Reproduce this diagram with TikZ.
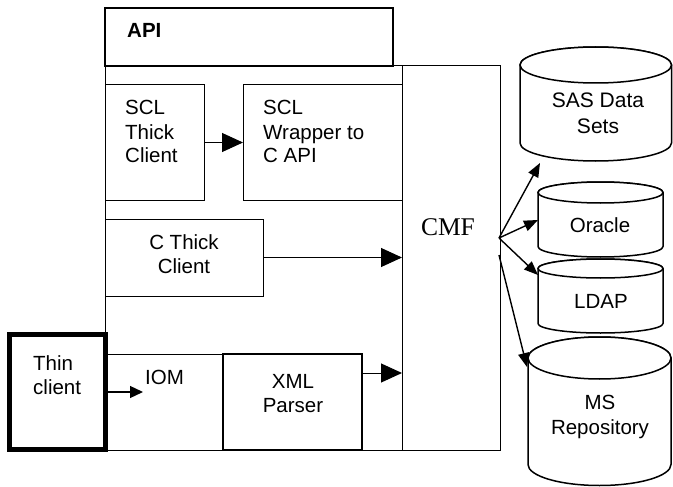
\documentclass[tikz,border=0pt]{standalone}
\usepackage{fontspec}
\setmainfont{Liberation Sans}
\newfontfamily\timesf{Liberation Serif}
\usetikzlibrary{arrows.meta}
\newcommand\dbcyl[5]{%
 \pgfmathsetmacro\dbcx{(#1+#2)/2}%
 \pgfmathsetmacro\dbrx{(#2-#1)/2}%
 \pgfmathsetmacro\dbyt{-(#3)-(#5)}%
 \pgfmathsetmacro\dbyb{-(#4)+(#5)}%
 \filldraw[cyl] (#1,\dbyt) -- (#1,\dbyb) arc[start angle=180,end angle=360,x radius=\dbrx,y radius=#5] -- (#2,\dbyt) arc[start angle=0,end angle=180,x radius=\dbrx,y radius=#5] -- cycle;
 \draw[cyl] (\dbcx,\dbyt) ellipse[x radius=\dbrx,y radius=#5];
}
\begin{document}
\begin{tikzpicture}[x=1pt,y=1pt,
  box/.style={draw, line width=1pt, inner sep=0pt, outer sep=0pt, anchor=north west},
  txt/.style={inner sep=0pt, font=\fontsize{20.5}{24}\selectfont},
  lbl/.style={txt, anchor=base west, align=left},
  clbl/.style={txt, anchor=base, align=center},
  cyl/.style={draw, fill=white, line width=1.5pt},
  bigarrow/.style={-{Triangle[length=21pt,width=19pt]}, line width=1pt},
  smallarrow/.style={-{Triangle[length=13pt,width=12pt]}, line width=1.3pt},
  dbarrow/.style={-{Triangle[length=14pt,width=11pt]}, line width=1.4pt}
]
\useasboundingbox (0,0) rectangle (673,-487);
% container and CMF
\node[box, minimum width=297pt, minimum height=384pt] (cont) at (105,-66) {};
\node[box, minimum width=98pt, minimum height=384pt] (cmf) at (402,-66) {};
\node[inner sep=0pt, anchor=base, font=\timesf\fontsize{25.5}{28}\selectfont] (cmft) at (448,-235) {CMF};
% API
\node[box, line width=2pt, minimum width=288pt, minimum height=58pt] (api) at (105,-8) {};
\node[lbl, font=\fontsize{20.5}{24}\selectfont\bfseries] (apit) at (127,-38) {API};
% SCL boxes
\node[box, minimum width=99pt, minimum height=115pt] (scl) at (105,-85) {};
\node[lbl] (sclt) at (125,-163) {SCL\\Thick\\Client};
\node[box, minimum width=159pt, minimum height=115pt] (wrap) at (243,-85) {};
\node[lbl] (wrapt) at (263,-163) {SCL\\Wrapper to\\C API};
% C thick client
\node[box, minimum width=158pt, minimum height=77pt] (cthick) at (105,-219) {};
\node[clbl] (ctt) at (184,-273) {C Thick\\Client};
% IOM row
\coordinate (iomleft) at (108,-354);
\node[box, line width=1.5pt, minimum width=139pt, minimum height=96pt] (xml) at (223,-354) {};
\draw[line width=1pt] (iomleft) -- (xml.north west);
\node[lbl] (iomt) at (145,-384) {IOM};
\node[clbl] (xmlt) at (293,-412) {XML\\Parser};
% thin client
\node[box, line width=5pt, fill=white, minimum width=96pt, minimum height=115pt] (thin) at (9.5,-334.5) {};
\node[lbl] (thint) at (33,-394) {Thin\\client};
% arrows in API
\draw[bigarrow] (scl.east) -- (wrap.west);
\draw[bigarrow] (cthick.east) -- (cthick.east -| cmf.west);
\coordinate (iomtip) at (143,-392);
\draw[smallarrow] (thin.east) -- (iomtip);
\coordinate (xmlout) at (362,-373);
\draw[bigarrow] (xmlout) -- (xmlout -| cmf.west);
% databases
\dbcyl{520}{671.5}{47}{161}{18}
\node[clbl, font=\fontsize{21}{26}\selectfont] (sas) at (598,-134) {SAS Data\\Sets};
\dbcyl{538}{663}{182}{257}{10.5}
\node[clbl] (ora) at (600,-233) {Oracle};
\dbcyl{538}{663}{259}{333}{9.5}
\node[clbl] (ldap) at (601,-308) {LDAP};
\dbcyl{528}{671}{337}{485.5}{21}
\node[clbl, font=\fontsize{20.5}{25}\selectfont] (ms) at (600,-434) {MS\\Repository};
% CMF to databases
\coordinate (cmfo) at (499,-238);
\coordinate (cmfo2) at (499,-255);
\coordinate (sastip) at (540,-163);
\coordinate (oratip) at (538,-220);
\coordinate (ldaptip) at (538,-275);
\coordinate (mstip) at (527,-367);
\draw[dbarrow] (cmfo) -- (sastip);
\draw[dbarrow] (cmfo) -- (oratip);
\draw[dbarrow] (cmfo) -- (ldaptip);
\draw[dbarrow] (cmfo2) -- (mstip);
\end{tikzpicture}
\end{document}
